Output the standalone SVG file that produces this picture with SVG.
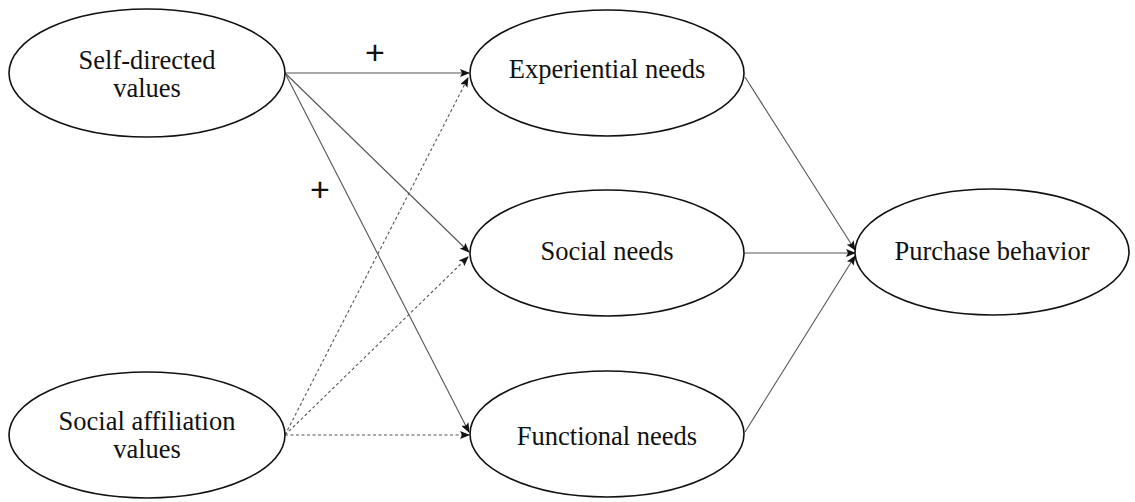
<svg xmlns="http://www.w3.org/2000/svg" width="1135" height="502" viewBox="0 0 1135 502">
<style>
.node ellipse{fill:#fff;stroke:#111;stroke-width:1.6}
.node text{font-family:'Liberation Serif','Times New Roman','DejaVu Serif',serif;font-size:26.5px;fill:#111;text-anchor:middle}
.c{stroke:#555;stroke-width:1.1;fill:none}
.d{stroke:#555;stroke-width:1.1;fill:none;stroke-dasharray:3 2.5}
.plus{font-family:'Liberation Sans',Arial,sans-serif;font-size:34px;fill:#111;text-anchor:middle}
</style>
<defs>
<marker id="ah" markerWidth="10" markerHeight="8" refX="9" refY="4" orient="auto" markerUnits="userSpaceOnUse">
<path d="M0,0 L10,4 L0,8 L2,4 Z" fill="#111"/>
</marker>
</defs>
<rect width="1135" height="502" fill="#fff"/>
<g id="connectors">
<line class="c" x1="285" y1="73" x2="469" y2="73" marker-end="url(#ah)"/>
<line class="c" x1="285" y1="73" x2="469" y2="252" marker-end="url(#ah)"/>
<line class="c" x1="285" y1="73" x2="469" y2="432" marker-end="url(#ah)"/>
<line class="d" x1="285" y1="435" x2="468" y2="78" marker-end="url(#ah)"/>
<line class="d" x1="285" y1="435" x2="468" y2="257" marker-end="url(#ah)"/>
<line class="d" x1="285" y1="435" x2="469" y2="435" marker-end="url(#ah)"/>
<line class="c" x1="745" y1="77" x2="855" y2="250" marker-end="url(#ah)"/>
<line class="c" x1="745" y1="253" x2="855" y2="253" marker-end="url(#ah)"/>
<line class="c" x1="745" y1="432" x2="855" y2="256" marker-end="url(#ah)"/>
<text class="plus" x="375" y="64">+</text>
<text class="plus" x="320" y="201">+</text>
</g>
<g id="self-directed" class="node">
<ellipse cx="147" cy="73" rx="138" ry="64"/>
<text x="147" y="69">Self-directed</text>
<text x="147" y="97">values</text>
</g>
<g id="social-affiliation" class="node">
<ellipse cx="147" cy="435" rx="138" ry="63"/>
<text x="147" y="430">Social affiliation</text>
<text x="147" y="458">values</text>
</g>
<g id="experiential" class="node">
<ellipse cx="607" cy="73" rx="137" ry="63"/>
<text x="607" y="78">Experiential needs</text>
</g>
<g id="social-needs" class="node">
<ellipse cx="607" cy="253" rx="137" ry="63"/>
<text x="607" y="260">Social needs</text>
</g>
<g id="functional" class="node">
<ellipse cx="607" cy="434" rx="137" ry="63"/>
<text x="607" y="445">Functional needs</text>
</g>
<g id="purchase" class="node">
<ellipse cx="992" cy="252" rx="137" ry="63"/>
<text x="992" y="260">Purchase behavior</text>
</g>
</svg>
